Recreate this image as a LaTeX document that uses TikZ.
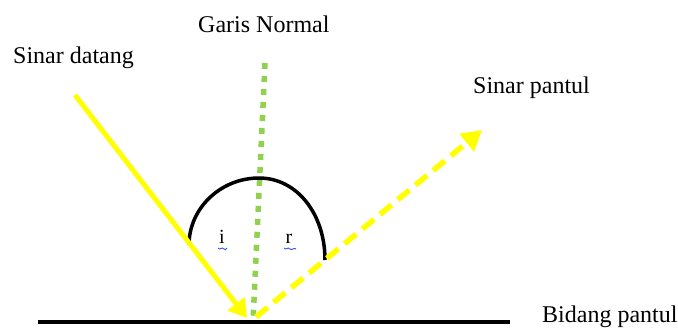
\documentclass[tikz,border=0pt]{standalone}
\usepackage{fontspec}
\setmainfont{Liberation Serif}
\usetikzlibrary{arrows.meta}
\definecolor{raygold}{HTML}{FFFF00}
\definecolor{normgreen}{HTML}{92D050}
\definecolor{spellblue}{HTML}{3050E0}
\tikzset{
  lbl/.style={inner sep=0pt, anchor=base west, font=\fontsize{24}{28}\selectfont},
  anglbl/.style={inner sep=0pt, anchor=base, font=\fontsize{20}{24}\selectfont},
  rayin/.style={draw=raygold, line width=5pt, -{Triangle[length=18pt,width=21pt]}},
  rayout/.style={draw=raygold, line width=5.5pt, dash pattern=on 15pt off 8pt, -{Triangle[length=20pt,width=22pt]}},
  normline/.style={draw=normgreen, line width=5.5pt, dash pattern=on 6pt off 7pt},
  ground/.style={draw=black, line width=3.5pt},
  anglearc/.style={draw=black, line width=3.5pt},
  squiggle/.style={draw=spellblue, line width=0.9pt}
}
\begin{document}
\begin{tikzpicture}[x=1pt,y=-1pt]
\useasboundingbox (0,0) rectangle (678,329);
% coordinates
\coordinate (gL) at (38,322);
\coordinate (gR) at (510,322);
\coordinate (nTop) at (265,63);
\coordinate (nBot) at (253,322);
\coordinate (inStart) at (75,95);
\coordinate (inTip) at (247,318);
\coordinate (outStart) at (256,317);
\coordinate (outTip) at (482,130);
\coordinate (arcL) at (189,245);
\coordinate (arcT) at (259,178);
\coordinate (arcR) at (325,260);
% ground
\draw[ground] (gL) -- (gR);
% normal
\draw[normline] (nTop) -- (nBot);
% arc
\draw[anglearc] (arcL) .. controls (189,208) and (221,178) .. (arcT)
  .. controls (297,178) and (325,214) .. (arcR);
% rays
\draw[rayin] (inStart) -- (inTip);
\draw[rayout] (outStart) -- (outTip);
% angle labels
\node[anglbl] (li) at (222,243) {i};
\node[anglbl] (lr) at (289,243) {r};
\draw[squiggle] (218,248) .. controls (220,251) and (222,246) .. (224,249) .. controls (225,251) and (226,249) .. (227,248);
\draw[squiggle] (284,248) .. controls (286,251) and (288,246) .. (290,249) .. controls (292,251) and (294,247) .. (296,249);
% texts
\node[lbl] (tNormal) at (198,33) {Garis Normal};
\node[lbl] (tDatang) at (13,64) {Sinar datang};
\node[lbl] (tPantul) at (473,93) {Sinar pantul};
\node[lbl] (tBidang) at (542,322) {Bidang pantul};
\end{tikzpicture}
\end{document}
